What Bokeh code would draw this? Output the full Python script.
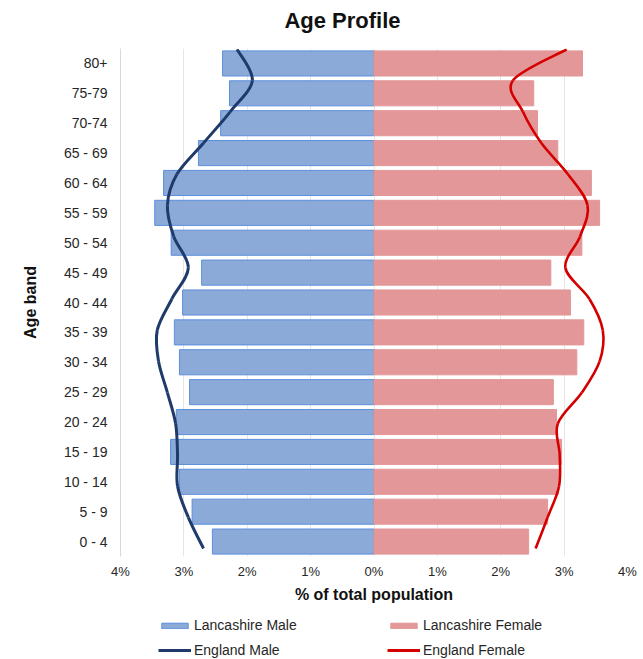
from bokeh.plotting import figure
from bokeh.layouts import column
from bokeh.models import (Range1d, FixedTicker, Legend, LegendItem,
                          ColumnDataSource, Label)
from bokeh.embed import file_html
from bokeh.resources import INLINE

# Age bands, youngest first
age_bands = ["0 - 4", "5 - 9", "10 - 14", "15 - 19", "20 - 24", "25 - 29",
             "30 - 34", "35 - 39", "40 - 44", "45 - 49", "50 - 54", "55 - 59",
             "60 - 64", "65 - 69", "70-74", "75-79", "80+"]

# Share of total population (%)
lancs_male = [2.55, 2.87, 3.07, 3.21, 3.12, 2.91, 3.07, 3.15, 3.02, 2.72,
              3.20, 3.46, 3.32, 2.77, 2.42, 2.28, 2.39]
lancs_female = [2.44, 2.74, 2.91, 2.96, 2.88, 2.83, 3.20, 3.31, 3.10, 2.79,
                3.28, 3.56, 3.43, 2.90, 2.58, 2.52, 3.29]
england_male = [2.69, 2.93, 3.10, 3.10, 3.13, 3.26, 3.40, 3.42, 3.19, 2.93,
                3.16, 3.26, 3.11, 2.69, 2.27, 1.92, 2.16]
england_female = [2.55, 2.74, 2.92, 2.93, 2.90, 3.28, 3.56, 3.61, 3.40, 3.02,
                  3.25, 3.37, 3.06, 2.64, 2.35, 2.19, 3.04]

pct_ticks = [-4, -3, -2, -1, 0, 1, 2, 3, 4]
pct_labels = ["4%", "3%", "2%", "1%", "0%", "1%", "2%", "3%", "4%"]

FONT = "Liberation Sans"
TEXT = "#262626"
MALE_FILL = "#8CAAD8"
MALE_EDGE = "#5B8FDC"
FEMALE_FILL = "#E39798"
ENG_MALE = "#1F3A6B"
ENG_FEMALE = "#D40000"

n = len(age_bands)
pos = list(range(n))

# Title strip (its frame lines up with the chart frame in the column)
head = figure(width=643, height=48, output_backend="svg",
              toolbar_location=None, x_axis_location=None,
              y_axis_location=None, min_border=0,
              x_range=Range1d(0, 1), y_range=Range1d(0, 1))
head.outline_line_color = None
head.grid.visible = False
head.add_layout(Label(x=222, y=28, x_units="screen", y_units="screen",
                      text="Age Profile", text_font=FONT,
                      text_font_size="22px", text_font_style="bold",
                      text_color="#111111", text_align="center",
                      text_baseline="middle"))

# Main pyramid
p = figure(width=643, height=557, output_backend="svg", toolbar_location=None,
           x_range=Range1d(-4, 4), y_range=Range1d(-0.5, n - 0.5),
           min_border_left=120, min_border_right=16, min_border_top=0,
           min_border_bottom=49)
p.extra_y_ranges = {"eng": Range1d(-0.256, 16.03)}

p.outline_line_color = None
p.background_fill_color = "white"
p.border_fill_color = "white"

p.xgrid.ticker = FixedTicker(ticks=pct_ticks)
p.xgrid.grid_line_color = "#E6E6E6"
p.ygrid.grid_line_color = None

xa = p.xaxis[0]
xa.ticker = FixedTicker(ticks=pct_ticks)
xa.major_label_overrides = dict(zip(pct_ticks, pct_labels))
xa.axis_line_color = None
xa.major_tick_line_color = None
xa.minor_tick_line_color = None
xa.major_label_standoff = 1
xa.major_label_text_font = FONT
xa.major_label_text_font_size = "13px"
xa.major_label_text_color = TEXT
xa.axis_label = "% of total population"
xa.axis_label_text_font = FONT
xa.axis_label_text_font_size = "16px"
xa.axis_label_text_font_style = "bold"
xa.axis_label_text_color = "#111111"
xa.axis_label_standoff = 4

ya = p.yaxis[0]
ya.ticker = FixedTicker(ticks=pos)
ya.major_label_overrides = dict(zip(pos, age_bands))
ya.axis_line_color = "#D9D9D9"
ya.major_tick_line_color = None
ya.minor_tick_line_color = None
ya.major_label_standoff = 7
ya.major_label_text_font = FONT
ya.major_label_text_font_size = "14px"
ya.major_label_text_color = TEXT
ya.axis_label = "Age band"
ya.axis_label_text_font = FONT
ya.axis_label_text_font_size = "16px"
ya.axis_label_text_font_style = "bold"
ya.axis_label_text_color = "#111111"
ya.axis_label_standoff = 22

src = ColumnDataSource(dict(pos=pos,
                            male_left=[-v for v in lancs_male],
                            female_right=lancs_female))

p.hbar(y="pos", left="male_left", right=0, height=0.84, source=src,
       fill_color=MALE_FILL, line_color=MALE_EDGE, line_width=1)
p.hbar(y="pos", left=0, right="female_right", height=0.84, source=src,
       fill_color=FEMALE_FILL, line_color=FEMALE_FILL, line_width=1)


def smooth(xs, ys):
    """Catmull-Rom style cubic Bezier segments through the points."""
    m = len(xs)
    seg = dict(x0=[], y0=[], x1=[], y1=[], cx0=[], cy0=[], cx1=[], cy1=[])
    for i in range(m - 1):
        a = i - 1 if i > 0 else i
        d = i + 2 if i + 2 < m else i + 1
        seg["x0"].append(xs[i]); seg["y0"].append(ys[i])
        seg["x1"].append(xs[i + 1]); seg["y1"].append(ys[i + 1])
        seg["cx0"].append(xs[i] + (xs[i + 1] - xs[a]) / 6)
        seg["cy0"].append(ys[i] + (ys[i + 1] - ys[a]) / 6)
        seg["cx1"].append(xs[i + 1] - (xs[d] - xs[i]) / 6)
        seg["cy1"].append(ys[i + 1] - (ys[d] - ys[i]) / 6)
    return ColumnDataSource(seg)


em_src = smooth([-v for v in england_male], pos)
ef_src = smooth(england_female, pos)
p.bezier(x0="x0", y0="y0", x1="x1", y1="y1", cx0="cx0", cy0="cy0",
         cx1="cx1", cy1="cy1", source=em_src, line_color=ENG_MALE,
         line_width=3, y_range_name="eng")
p.bezier(x0="x0", y0="y0", x1="x1", y1="y1", cx0="cx0", cy0="cy0",
         cx1="cx1", cy1="cy1", source=ef_src, line_color=ENG_FEMALE,
         line_width=2.6, y_range_name="eng")

# Legend strip under the chart
lg = figure(width=643, height=54, output_backend="svg", toolbar_location=None,
            x_axis_location=None, y_axis_location=None, min_border=0,
            x_range=Range1d(0, 1), y_range=Range1d(0, 1))
lg.outline_line_color = None
lg.grid.visible = False

nan = float("nan")
key_src = ColumnDataSource(dict(y=[nan], l=[nan], r=[nan]))
k_lm = lg.hbar(y="y", left="l", right="r", height=1, source=key_src,
               fill_color=MALE_FILL, line_color=MALE_EDGE, line_width=1)
k_lf = lg.hbar(y="y", left="l", right="r", height=1, source=key_src,
               fill_color=FEMALE_FILL, line_color=FEMALE_FILL, line_width=1)
k_em = lg.line(x="l", y="y", source=key_src, line_color=ENG_MALE, line_width=3)
k_ef = lg.line(x="l", y="y", source=key_src, line_color=ENG_FEMALE,
               line_width=3)


def make_legend(items, loc, gh, lh):
    return Legend(items=items, orientation="horizontal", location=loc,
                  glyph_width=33, glyph_height=gh, label_height=lh,
                  label_width=193, label_standoff=3, spacing=0, padding=0,
                  margin=0, border_line_color=None, background_fill_alpha=0,
                  label_text_font=FONT, label_text_font_size="14px",
                  label_text_color=TEXT)


lg.add_layout(make_legend(
    [LegendItem(label="Lancashire Male", renderers=[k_lm]),
     LegendItem(label="Lancashire Female", renderers=[k_lf])],
    (38, 24), 7, 20))
lg.add_layout(make_legend(
    [LegendItem(label="England Male", renderers=[k_em]),
     LegendItem(label="England Female", renderers=[k_ef])],
    (38, 0), 18, 18))

open("out.html", "w").write(file_html(column(head, p, lg, spacing=0), INLINE))
